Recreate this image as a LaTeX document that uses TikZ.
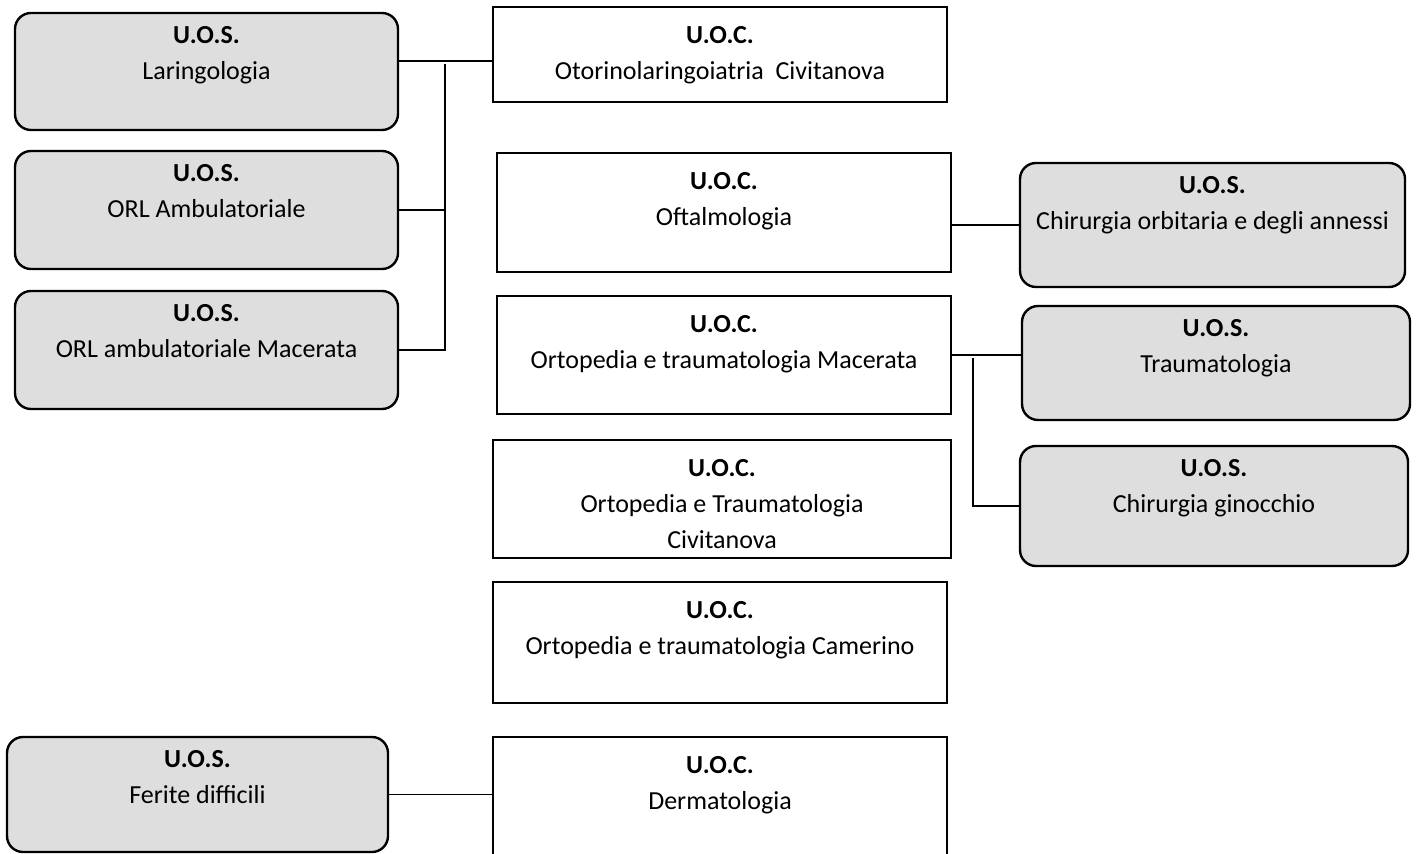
\documentclass[tikz,border=0pt]{standalone}
\usepackage{fontspec}
\setmainfont{Carlito}
\begin{document}
\begin{tikzpicture}[x = 0.5pt, y = -0.5pt, line width = 1.2pt,
    uos/.style = {draw, rounded corners = 8pt, fill = black!13, inner sep = 0pt},
    uoc/.style = {draw, fill = white, inner sep = 0pt},
    testo/.style = {align = center, anchor = north, inner sep = 0pt, font = \fontsize{13}{18}\selectfont},
    linea/.style = {line width = 0.9pt}]
    \useasboundingbox (0,0) rectangle (1416,854);
    %coordinate in pixel: nome/x1/y1/x2/y2/testo
    \foreach \nome/\xa/\ya/\xb/\yb/\testo in {
            lar/15/13/398/130/Laringologia,
            amb/15/151/398/269/ORL Ambulatoriale,
            mac/15/291/398/409/ORL ambulatoriale Macerata,
            fer/7/737/388/852/Ferite difficili,
            orb/1020/163/1405/287/Chirurgia orbitaria e degli annessi,
            tra/1022/306/1410/420/Traumatologia,
            gin/1020/446/1408/566/Chirurgia ginocchio}{
        \pgfmathsetmacro\w{(\xb-\xa)/2}
        \pgfmathsetmacro\h{(\yb-\ya)/2}
        \node[uos, minimum width = \w pt, minimum height = \h pt] (\nome) at ({(\xa+\xb)/2}, {(\ya+\yb)/2}) {};
        \node[testo] (\nome-t) at ([yshift = -6.5pt]\nome.north) {\textbf{U.O.S.}\\\testo};
    }
    %le U.O.C. in mezzo, senza angoli arrotondati
    \foreach \nome/\xa/\ya/\xb/\yb/\testo in {
            oto/493/7/947/102/{Otorinolaringoiatria\ \ Civitanova},
            oft/497/153/951/272/Oftalmologia,
            omc/497/296/951/414/Ortopedia e traumatologia Macerata,
            oci/493/440/951/558/{Ortopedia e Traumatologia\\Civitanova},
            oca/493/582/947/703/Ortopedia e traumatologia Camerino,
            der/493/737/947/872/Dermatologia}{
        \pgfmathsetmacro\w{(\xb-\xa)/2}
        \pgfmathsetmacro\h{(\yb-\ya)/2}
        \node[uoc, minimum width = \w pt, minimum height = \h pt] (\nome) at ({(\xa+\xb)/2}, {(\ya+\yb)/2}) {};
        \node[testo] (\nome-t) at ([yshift = -9.5pt]\nome.north) {\textbf{U.O.C.}\\\testo};
    }
    %collegamenti
    \coordinate (nodo1) at (445,61);
    \coordinate (nodo2) at (973,358);
    \draw[linea] (lar.east |- nodo1) -- (oto.west |- nodo1);
    \draw[linea] ([yshift = -1.5pt]nodo1) -- (nodo1 |- mac.east) -- (mac.east);
    \draw[linea] (amb.east) -- (nodo1 |- amb.east);
    \draw[linea] (orb.west) -- (orb.west -| oft.east);
    \draw[linea] (omc.east) -- (omc.east -| tra.west);
    \draw[linea] (nodo2) |- (gin.west);
    \draw[linea] (fer.east) -- (fer.east -| der.west);
\end{tikzpicture}
\end{document}
